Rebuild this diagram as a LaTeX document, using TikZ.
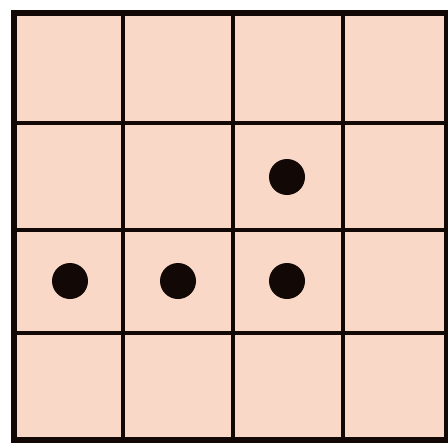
\documentclass[tikz,border=0pt]{standalone}
\usepackage{tikz}
\definecolor{Peach}{HTML}{F9D8C7}
\definecolor{Ink}{HTML}{120806}

\begin{document}
\begin{tikzpicture}[x=0.5pt,y=-0.5pt]
      \useasboundingbox[fill=white] (0,0) rectangle (448,445);
      \fill[Peach] (14,13) rectangle (448,440);
      \foreach \x in {123,233,343}
        \draw[Ink,line width=2pt] (\x,13) -- (\x,440);
      \foreach \y in {123,230,333}
        \draw[Ink,line width=2pt] (14,\y) -- (448,\y);
      \draw[Ink,line width=3pt] (449,13) -- (14,13) -- (14,440) -- (449,440);
      \draw[Ink,line width=2pt] (446,13) -- (446,440);
      \foreach \x/\y in {287/177,70/281,178/281,287/281}
        \fill[Ink] (\x,\y) circle (18);
    \end{tikzpicture}
\end{document}
